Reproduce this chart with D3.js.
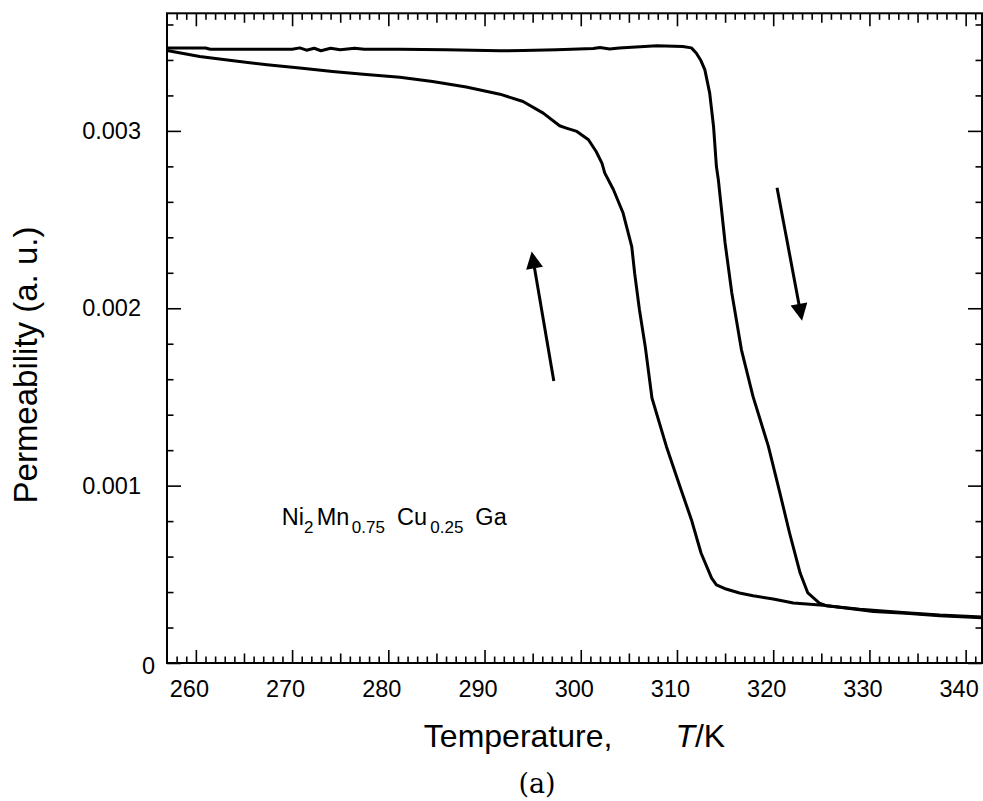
<!DOCTYPE html>
<html>
<head>
<meta charset="utf-8">
<script src="https://cdn.jsdelivr.net/npm/d3@7"></script>
<style>
body { margin: 0; background: #fff; }
svg { display: block; font-family: "Liberation Sans", Arial, sans-serif; }
</style>
</head>
<body>
<div class="perm-chart"></div>
<script>
// cooling run (lower branch)
const coolingT = [257.0, 260.4, 263.9, 267.4, 270.8, 274.2, 277.7, 281.2, 284.6, 288.1, 291.6, 294.0, 296.1, 297.8, 298.5, 299.6, 300.8, 301.6, 302.2, 302.5, 303.4, 304.4, 305.3, 305.6, 306.1, 306.7, 307.4, 308.9, 310.3, 311.5, 312.5, 313.6, 314.1, 315.1, 316.5, 317.9, 320.0, 322.1, 325.2, 329.0, 330.4, 333.8, 337.3, 341.7];
const coolingP = [3.453, 3.419, 3.396, 3.373, 3.354, 3.335, 3.318, 3.303, 3.278, 3.247, 3.207, 3.166, 3.100, 3.029, 3.016, 2.997, 2.950, 2.884, 2.818, 2.762, 2.668, 2.537, 2.348, 2.198, 1.992, 1.785, 1.494, 1.221, 0.996, 0.808, 0.620, 0.479, 0.441, 0.417, 0.395, 0.379, 0.361, 0.338, 0.325, 0.300, 0.291, 0.280, 0.267, 0.255];

// heating run (upper branch)
const heatingT = [257.0, 261.0, 261.5, 265.0, 270.0, 270.8, 271.5, 272.3, 273.0, 274.0, 275.0, 276.5, 277.5, 281.2, 286.0, 291.6, 294.0, 297.5, 301.3, 302.0, 303.0, 304.0, 307.9, 310.6, 311.5, 312.0, 312.5, 312.9, 313.4, 313.8, 314.1, 314.3, 315.0, 315.7, 316.7, 317.9, 319.5, 320.7, 321.7, 322.8, 323.6, 324.8, 325.5, 329.0, 333.8, 337.3, 341.7];
const heatingP = [3.467, 3.467, 3.460, 3.460, 3.460, 3.468, 3.455, 3.466, 3.452, 3.466, 3.458, 3.466, 3.460, 3.460, 3.458, 3.452, 3.453, 3.457, 3.464, 3.470, 3.462, 3.468, 3.480, 3.476, 3.468, 3.439, 3.395, 3.344, 3.213, 3.025, 2.799, 2.724, 2.368, 2.086, 1.766, 1.503, 1.221, 0.958, 0.733, 0.507, 0.395, 0.338, 0.323, 0.303, 0.283, 0.270, 0.259];

// arrows: [tail, tip] in (T, permeability x1e-3)
const arrowTailT = [297.2, 320.4];
const arrowTailP = [1.59, 2.68];
const arrowTipT = [294.9, 323.0];
const arrowTipP = [2.32, 1.93];

const xMajor = [260, 270, 280, 290, 300, 310, 320, 330, 340];
const xMid = [265, 275, 285, 295, 305, 315, 325, 335];
const xMinor = d3.range(258, 342).filter(d => d % 5 !== 0);
const yMajor = [0, 0.001, 0.002, 0.003];
const yMinor = [0.0002, 0.0004, 0.0006, 0.0008, 0.0012, 0.0014, 0.0016, 0.0018, 0.0022, 0.0024, 0.0026, 0.0028, 0.0032, 0.0034, 0.0036];

const width = 983;
const height = 801;

const svg = d3.select('.perm-chart').append('svg')
    .attr('width', width)
    .attr('height', height);

const x = d3.scaleLinear().domain([257, 341.7]).range([167, 982]);
const y = d3.scaleLinear().domain([0, 0.003663]).range([663, 13.3]);

function plain(g) {
    g.select('.domain').remove();
    g.selectAll('.tick line').attr('stroke', '#000').attr('stroke-width', 1.6);
}

// bottom ticks + labels
svg.append('g').attr('transform', `translate(0,${y(0)})`)
    .call(d3.axisBottom(x).tickValues(xMajor).tickSize(-13).tickPadding(17).tickFormat(d3.format('d')))
    .call(plain)
    .call(g => g.selectAll('text').attr('font-size', 23.5).attr('font-family', null).attr('fill', '#000').attr('dx', -7));
svg.append('g').attr('transform', `translate(0,${y(0)})`)
    .call(d3.axisBottom(x).tickValues(xMid).tickSize(-9.5).tickFormat(''))
    .call(plain);
svg.append('g').attr('transform', `translate(0,${y(0)})`)
    .call(d3.axisBottom(x).tickValues(xMinor).tickSize(-6.5).tickFormat(''))
    .call(plain);

// top ticks
svg.append('g').attr('transform', `translate(0,${y.range()[1]})`)
    .call(d3.axisTop(x).tickValues(xMajor).tickSize(-13).tickFormat(''))
    .call(plain);
svg.append('g').attr('transform', `translate(0,${y.range()[1]})`)
    .call(d3.axisTop(x).tickValues(xMid).tickSize(-9.5).tickFormat(''))
    .call(plain);
svg.append('g').attr('transform', `translate(0,${y.range()[1]})`)
    .call(d3.axisTop(x).tickValues(xMinor).tickSize(-6.5).tickFormat(''))
    .call(plain);

// left ticks + labels
svg.append('g').attr('transform', `translate(${x(257)},0)`)
    .call(d3.axisLeft(y).tickValues(yMajor).tickSize(-14).tickPadding(26)
        .tickFormat(d => d === 0 ? '0' : d3.format('.3f')(d)))
    .call(plain)
    .call(g => g.selectAll('text').attr('font-size', 23.5).attr('font-family', null).attr('fill', '#000')
        .attr('dx', d => d === 0 ? 14 : 0)
        .attr('dy', d => d === 0 ? '0.45em' : '0.32em'));
svg.append('g').attr('transform', `translate(${x(257)},0)`)
    .call(d3.axisLeft(y).tickValues(yMinor).tickSize(-6.5).tickFormat(''))
    .call(plain);

// right ticks
svg.append('g').attr('transform', `translate(${x.range()[1]},0)`)
    .call(d3.axisRight(y).tickValues(yMajor).tickSize(-14).tickFormat(''))
    .call(plain);
svg.append('g').attr('transform', `translate(${x.range()[1]},0)`)
    .call(d3.axisRight(y).tickValues(yMinor).tickSize(-6.5).tickFormat(''))
    .call(plain);

// frame
svg.append('rect')
    .attr('x', x.range()[0])
    .attr('y', y.range()[1])
    .attr('width', x.range()[1] - x.range()[0])
    .attr('height', y.range()[0] - y.range()[1])
    .attr('fill', 'none')
    .attr('stroke', '#000')
    .attr('stroke-width', 2);

// curves
const line = d3.line()
    .x(d => x(d[0]))
    .y(d => y(d[1] / 1000));

const cooling = coolingT.map((t, i) => [t, coolingP[i]]);
const heating = heatingT.map((t, i) => [t, heatingP[i]]);

svg.selectAll('path.curve')
    .data([cooling, heating])
    .enter()
    .append('path')
    .attr('class', 'curve')
    .attr('d', line)
    .attr('fill', 'none')
    .attr('stroke', '#000')
    .attr('stroke-width', 3)
    .attr('stroke-linejoin', 'round');

// arrows
const headLen = 17, headHalf = 8.5;
arrowTailT.forEach((t, i) => {
    const x0 = x(t), y0 = y(arrowTailP[i] / 1000);
    const x1 = x(arrowTipT[i]), y1 = y(arrowTipP[i] / 1000);
    const len = Math.hypot(x1 - x0, y1 - y0);
    const ux = (x1 - x0) / len, uy = (y1 - y0) / len;
    const bx = x1 - ux * headLen, by = y1 - uy * headLen;
    svg.append('line')
        .attr('x1', x0).attr('y1', y0)
        .attr('x2', bx + ux * 2).attr('y2', by + uy * 2)
        .attr('stroke', '#000')
        .attr('stroke-width', 3);
    svg.append('path')
        .attr('d', `M${x1},${y1}L${bx - uy * headHalf},${by + ux * headHalf}L${bx + uy * headHalf},${by - ux * headHalf}Z`)
        .attr('fill', '#000');
});

// sample formula
const formula = svg.append('text')
    .attr('x', 281.7)
    .attr('y', 525)
    .attr('font-size', 23.5);
formula.append('tspan').text('Ni');
formula.append('tspan').attr('font-size', 17).attr('dy', 8).text('2');
formula.append('tspan').attr('dy', -8).attr('dx', 3.4).text('Mn');
formula.append('tspan').attr('font-size', 17).attr('dy', 8).attr('dx', 2.4).text('0.75');
formula.append('tspan').attr('dy', -8).attr('dx', 12).text('Cu');
formula.append('tspan').attr('font-size', 17).attr('dy', 8).attr('dx', 3.3).text('0.25');
formula.append('tspan').attr('dy', -8).attr('dx', 12).text('Ga');

// axis titles
svg.append('text')
    .attr('transform', 'translate(37,365) rotate(-90)')
    .attr('text-anchor', 'middle')
    .attr('font-size', 33)
    .text('Permeability (a. u.)');

const xt = svg.append('text')
    .attr('x', (x.range()[0] + x.range()[1]) / 2)
    .attr('y', 747.3)
    .attr('text-anchor', 'middle')
    .attr('font-size', 32);
xt.append('tspan').text('Temperature,');
xt.append('tspan').attr('dx', 63).attr('font-style', 'italic').text('T');
xt.append('tspan').text('/K');

svg.append('text')
    .attr('x', 537)
    .attr('y', 793)
    .attr('text-anchor', 'middle')
    .attr('font-family', '"DejaVu Serif", serif')
    .attr('font-size', 27)
    .text('(a)');
</script>
</body>
</html>
